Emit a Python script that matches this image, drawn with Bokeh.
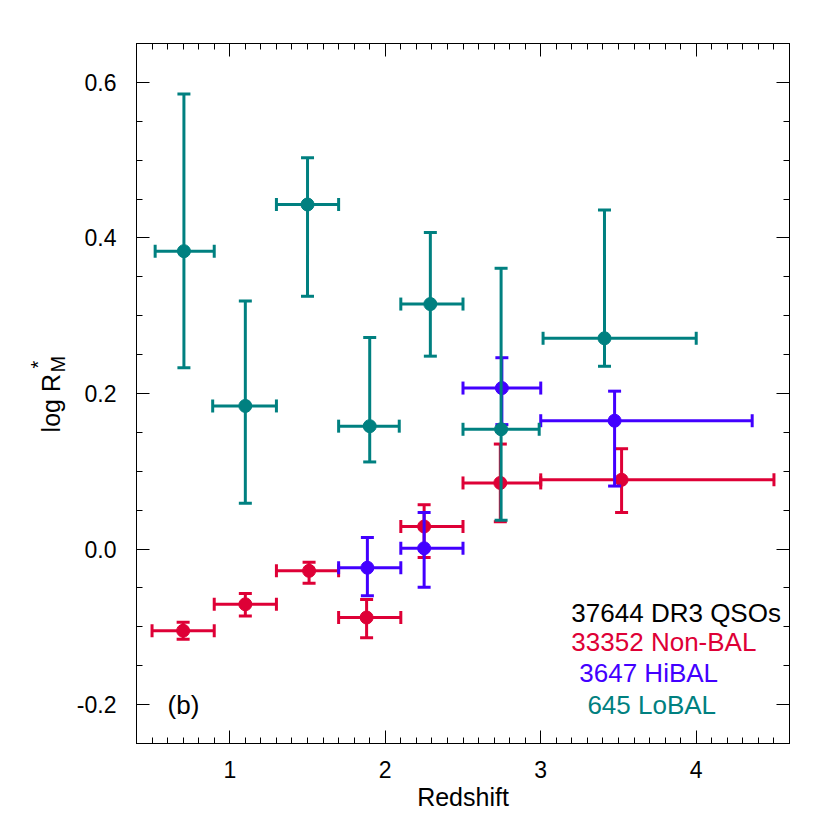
import math
from bokeh.plotting import figure
from bokeh.models import (ColumnDataSource, LinearAxis, FixedTicker, Label,
                          NumeralTickFormatter, Range1d)
from bokeh.embed import file_html
from bokeh.resources import INLINE

# ---------------- data ----------------
# Non-BAL (red)
nb_z = [0.70, 1.10, 1.51, 1.88, 2.25, 2.74, 3.52]
nb_zlo = [0.50, 0.90, 1.30, 1.70, 2.10, 2.50, 3.00]
nb_zhi = [0.90, 1.30, 1.70, 2.10, 2.50, 3.00, 4.50]
nb_y = [-0.105, -0.071, -0.028, -0.088, 0.029, 0.085, 0.089]
nb_ylo = [-0.116, -0.086, -0.044, -0.114, -0.011, 0.035, 0.047]
nb_yhi = [-0.094, -0.057, -0.017, -0.065, 0.057, 0.135, 0.129]

# HiBAL (blue)
hi_z = [1.885, 2.25, 2.75, 3.475]
hi_zlo = [1.70, 2.10, 2.50, 3.00]
hi_zhi = [2.10, 2.50, 3.00, 4.36]
hi_y = [-0.024, 0.001, 0.207, 0.165]
hi_ylo = [-0.060, -0.049, 0.160, 0.081]
hi_yhi = [0.015, 0.047, 0.246, 0.203]

# LoBAL (teal)
lo_z = [0.705, 1.10, 1.50, 1.90, 2.29, 2.745, 3.41]
lo_zlo = [0.52, 0.89, 1.30, 1.70, 2.10, 2.50, 3.015]
lo_zhi = [0.90, 1.30, 1.70, 2.09, 2.50, 2.99, 4.00]
lo_y = [0.383, 0.184, 0.443, 0.158, 0.315, 0.154, 0.271]
lo_ylo = [0.233, 0.059, 0.325, 0.112, 0.248, 0.037, 0.235]
lo_yhi = [0.585, 0.319, 0.503, 0.272, 0.407, 0.361, 0.436]

x_ticks = [1, 2, 3, 4]
y_ticks = [-0.2, 0.0, 0.2, 0.4, 0.6]

legend_texts = ["37644 DR3 QSOs", "33352 Non-BAL", "3647 HiBAL", "645 LoBAL"]

RED = "#DE0036"
BLUE = "#4200FF"
TEAL = "#008080"
FONT = "Liberation Sans"

p = figure(width=818, height=818,
           x_range=Range1d(0.4, 4.6), y_range=Range1d(-0.25, 0.65),
           output_backend="svg", toolbar_location=None,
           min_border_left=136, min_border_right=29,
           min_border_top=43, min_border_bottom=75)
p.xgrid.visible = False
p.ygrid.visible = False
p.outline_line_color = "black"
p.outline_line_width = 1
p.background_fill_color = "white"
p.border_fill_color = "white"

x_minor = [round(0.4 + 0.1 * i, 2) for i in range(43)]
y_minor = [round(-0.25 + 0.05 * i, 3) for i in range(19)]


def style_axis(ax, ticks, minor, fmt, show_labels=True):
    ax.ticker = FixedTicker(ticks=ticks, minor_ticks=minor)
    ax.formatter = NumeralTickFormatter(format=fmt)
    ax.major_tick_in = 13
    ax.major_tick_out = 0
    ax.minor_tick_in = 6
    ax.minor_tick_out = 0
    ax.axis_line_color = "black"
    ax.major_tick_line_color = "black"
    ax.minor_tick_line_color = "black"
    ax.major_label_text_font = FONT
    ax.major_label_text_color = "black"
    ax.major_label_text_font_size = "23px"
    if not show_labels:
        ax.major_label_overrides = {t: "" for t in ticks}
        ax.major_label_text_font_size = "10px"
        ax.major_label_standoff = 0


style_axis(p.xaxis[0], x_ticks, x_minor, "0")
style_axis(p.yaxis[0], y_ticks, y_minor, "0.0")
p.xaxis[0].major_label_standoff = 17
p.yaxis[0].major_label_standoff = 20
p.xaxis[0].axis_label = "Redshift"
p.xaxis[0].axis_label_text_font = FONT
p.xaxis[0].axis_label_text_font_size = "25px"
p.xaxis[0].axis_label_text_font_style = "normal"
p.xaxis[0].axis_label_text_color = "black"
p.xaxis[0].axis_label_standoff = 2

top_ax = LinearAxis()
style_axis(top_ax, x_ticks, x_minor, "0", show_labels=False)
p.add_layout(top_ax, "above")
right_ax = LinearAxis()
style_axis(right_ax, y_ticks, y_minor, "0.0", show_labels=False)
p.add_layout(right_ax, "right")


def draw_series(z, zlo, zhi, y, ylo, yhi, color):
    src = ColumnDataSource(dict(z=z, zlo=zlo, zhi=zhi, y=y, ylo=ylo, yhi=yhi))
    p.segment(x0="zlo", y0="y", x1="zhi", y1="y", source=src,
              line_color=color, line_width=3)
    p.segment(x0="z", y0="ylo", x1="z", y1="yhi", source=src,
              line_color=color, line_width=3)
    # caps
    p.scatter(x="z", y="yhi", marker="dash", size=13, source=src,
              line_color=color, line_width=3)
    p.scatter(x="z", y="ylo", marker="dash", size=13, source=src,
              line_color=color, line_width=3)
    p.scatter(x="zlo", y="y", marker="dash", size=13, angle=math.pi / 2,
              source=src, line_color=color, line_width=3)
    p.scatter(x="zhi", y="y", marker="dash", size=13, angle=math.pi / 2,
              source=src, line_color=color, line_width=3)
    p.scatter(x="z", y="y", marker="circle", size=13, source=src,
              fill_color=color, line_color=color)


draw_series(nb_z, nb_zlo, nb_zhi, nb_y, nb_ylo, nb_yhi, RED)
draw_series(hi_z, hi_zlo, hi_zhi, hi_y, hi_ylo, hi_yhi, BLUE)
draw_series(lo_z, lo_zlo, lo_zhi, lo_y, lo_ylo, lo_yhi, TEAL)

# legend texts
leg_pos = [(3.197, -0.0816), (3.197, -0.119), (3.248, -0.159), (3.30, -0.200)]
leg_col = ["black", RED, BLUE, TEAL]
for (lx, ly), t, c in zip(leg_pos, legend_texts, leg_col):
    p.add_layout(Label(x=lx, y=ly, text=t, text_color=c, text_font=FONT,
                       text_font_size="26px", text_baseline="middle",
                       text_align="left"))

p.add_layout(Label(x=0.60, y=-0.200, text="(b)", text_color="black",
                   text_font=FONT, text_font_size="26px",
                   text_baseline="middle", text_align="left"))

# y-axis title: log R^*_M  (placed in the left side panel so it is not clipped)
p.add_layout(Label(x=-0.150, y=0.150, text="log R", angle=math.pi / 2,
                   text_color="black", text_font=FONT, text_font_size="25px",
                   text_baseline="middle", text_align="left"), "left")
p.add_layout(Label(x=-0.105, y=0.227, text="M", angle=math.pi / 2,
                   text_color="black", text_font=FONT, text_font_size="20px",
                   text_baseline="middle", text_align="left"), "left")
p.add_layout(Label(x=-0.233, y=0.232, text="*", angle=math.pi / 2,
                   text_color="black", text_font=FONT, text_font_size="20px",
                   text_baseline="middle", text_align="left"), "left")

open("out.html", "w").write(file_html(p, INLINE))
